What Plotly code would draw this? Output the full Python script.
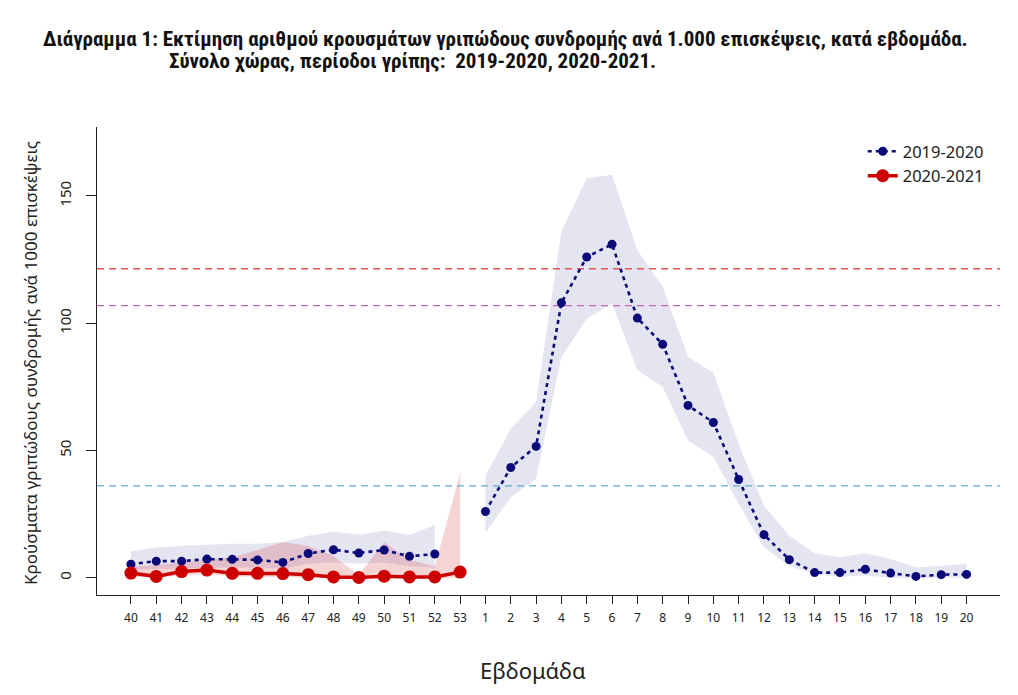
import plotly.graph_objects as go

weeks = [str(w) for w in range(40, 54)] + [str(w) for w in range(1, 21)]

s1920 = [5.3, 6.5, 6.5, 7.3, 7.2, 7.0, 6.0, 9.5, 11.0, 9.7, 10.9, 8.4, 9.3, None,
         26.0, 43.3, 51.6, 108.0, 126.0, 131.0, 102.0, 91.7, 67.7, 61.0, 38.6, 16.9,
         7.1, 2.0, 2.0, 3.3, 1.8, 0.5, 1.2, 1.3]
lo1920 = [3.0, 3.5, 3.5, 4.0, 4.0, 4.0, 3.5, 5.5, 6.0, 5.5, 6.0, 4.5, 4.0, None,
          17.8, 31.5, 38.9, 86.7, 101.8, 107.7, 81.5, 74.9, 53.9, 47.5, 29.0, 11.9,
          4.7, 1.4, 0.4, 0.9, 0.0, 0.0, 0.0, 0.0]
hi1920 = [10.4, 11.9, 12.6, 13.0, 13.3, 13.3, 13.9, 16.5, 18.2, 16.9, 18.5, 16.9, 20.7, None,
          40.2, 58.5, 69.0, 136.0, 157.0, 158.3, 128.7, 114.3, 86.7, 80.5, 52.6, 28.3,
          16.5, 9.6, 8.0, 9.6, 7.3, 4.0, 4.7, 5.6]

s2021 = [1.8, 0.5, 2.4, 3.0, 1.7, 1.7, 1.6, 1.2, 0.3, 0.1, 0.6, 0.3, 0.3, 2.2]
lo2021 = [0.5, 0.0, 1.0, 1.5, 0.5, 0.5, 0.3, 0.0, 0.0, 0.0, 0.0, 0.0, 0.0, 0.0]
hi2021 = [4.5, 5.0, 6.0, 7.0, 8.0, 11.0, 14.0, 12.5, 8.5, 1.0, 14.0, 7.0, 4.5, 41.0]

thresholds = [121.4, 106.9, 36.1]
threshold_colors = ["#e05555", "#c468b4", "#5eadd0"]

series_names = ["2019-2020", "2020-2021"]
line_colors = ["#0a0a78", "#cd0000"]

xs = list(range(len(weeks)))


def segments(lo, hi):
    segs, cur = [], []
    for i, (a, b) in enumerate(zip(lo, hi)):
        if a is None or b is None:
            if cur:
                segs.append(cur)
            cur = []
        else:
            cur.append(i)
    if cur:
        segs.append(cur)
    return segs


fig = go.Figure()


def add_band(lo, hi, color):
    for seg in segments(lo, hi):
        px = [xs[i] for i in seg] + [xs[i] for i in reversed(seg)]
        py = [hi[i] for i in seg] + [lo[i] for i in reversed(seg)]
        fig.add_trace(go.Scatter(x=px, y=py, fill="toself", fillcolor=color,
                                 line=dict(width=0), mode="lines",
                                 showlegend=False, hoverinfo="skip"))


add_band(lo1920, hi1920, "rgba(0,0,128,0.10)")
add_band(lo2021, hi2021, "rgba(205,0,0,0.17)")

for val, col in zip(thresholds, threshold_colors):
    fig.add_trace(go.Scatter(x=[-1.34, 34.32], y=[val, val], mode="lines",
                             line=dict(color=col, width=1.4, dash="7px,5px"),
                             showlegend=False, hoverinfo="skip"))

fig.add_trace(go.Scatter(x=xs, y=s1920, mode="lines+markers", name=series_names[0],
                         line=dict(color=line_colors[0], width=2.6, dash="4px,4px"),
                         marker=dict(color=line_colors[0], size=9)))
fig.add_trace(go.Scatter(x=xs[:len(s2021)], y=s2021, mode="lines+markers", name=series_names[1],
                         line=dict(color=line_colors[1], width=3.5),
                         marker=dict(color=line_colors[1], size=13)))

font_main = "Noto Sans, Open Sans, DejaVu Sans, sans-serif"
font_title = "Liberation Sans Narrow, Roboto Condensed, Roboto, sans-serif"

# the page body adds an 8px offset; the figure is sized to fill the rest
fig.update_layout(
    template="none",
    width=1010, height=687,
    margin=dict(l=89, r=18, t=119, b=100, autoexpand=False),
    plot_bgcolor="white", paper_bgcolor="white",
    font=dict(family=font_main, color="#222222"),
    showlegend=True,
    legend=dict(x=0.848, y=0.985, xanchor="left", yanchor="top",
                font=dict(size=16.5, color="#222222"), bgcolor="rgba(0,0,0,0)",
                tracegroupgap=0),
    xaxis=dict(range=[-1.34, 34.32], tickmode="array", tickvals=xs, ticktext=weeks,
               automargin=False,
               showgrid=False, zeroline=False, showline=True, linecolor="#222222",
               linewidth=1.3, ticks="outside", ticklen=8, tickcolor="#222222",
               ticklabelstandoff=3,
               tickfont=dict(size=12, color="#222222")),
    yaxis=dict(range=[-6.8, 177.1], tickmode="array", tickvals=[0, 50, 100, 150],
               automargin=False,
               showgrid=False, zeroline=False, showline=True, linecolor="#222222",
               linewidth=1.3, ticks="outside", ticklen=10, tickcolor="#222222",
               tickangle=-90, ticklabelstandoff=9, tickfont=dict(size=15, color="#222222")),
    annotations=[
        dict(text="<b>Διάγραμμα 1: Εκτίμηση αριθμού κρουσμάτων γριπώδους συνδρομής ανά 1.000 επισκέψεις, κατά εβδομάδα.</b>",
             xref="paper", yref="paper", x=0.452, y=1.189, xanchor="center", yanchor="middle",
             showarrow=False, font=dict(family=font_title, size=21, color="#111111")),
        dict(text="<b>Σύνολο χώρας, περίοδοι γρίπης:  2019-2020, 2020-2021.</b>",
             xref="paper", yref="paper", x=0.078, y=1.141, xanchor="left", yanchor="middle",
             showarrow=False, font=dict(family=font_title, size=21, color="#111111")),
        dict(text="Εβδομάδα", xref="paper", yref="paper", x=0.483, y=-0.16,
             xanchor="center", yanchor="middle", showarrow=False,
             font=dict(size=22, color="#222222")),
        dict(text="Κρούσματα γριπώδους συνδρομής ανά 1000 επισκέψεις", xref="paper", yref="paper",
             x=-0.073, y=0.496, xanchor="center", yanchor="middle", textangle=-90,
             showarrow=False, font=dict(size=17, color="#222222")),
    ],
)

fig.write_html("out.html")
